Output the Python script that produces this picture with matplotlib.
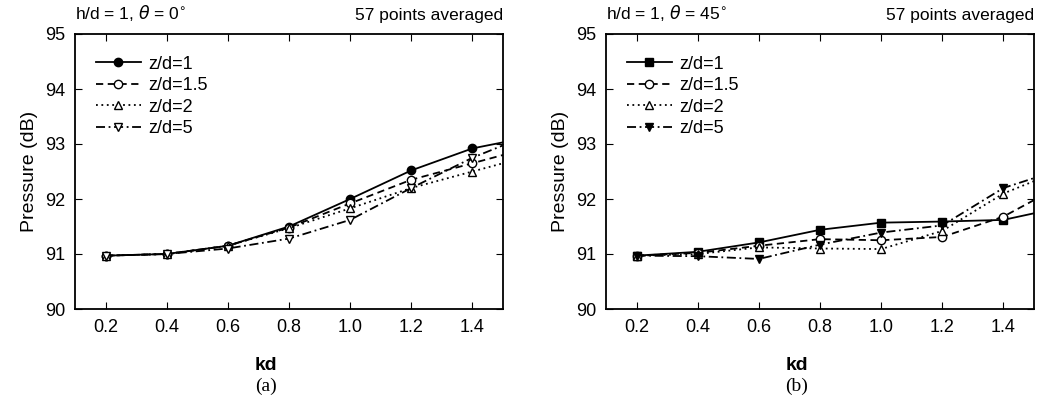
import numpy as np
import matplotlib.pyplot as plt

plt.rcParams['font.family'] = ['Liberation Sans', 'DejaVu Sans']

kd = [0.2, 0.4, 0.6, 0.8, 1.0, 1.2, 1.4, 1.6]
labels = ['z/d=1', 'z/d=1.5', 'z/d=2', 'z/d=5']

# panel (a): theta = 0
p_a = {
    'z/d=1':   [90.97, 91.00, 91.15, 91.50, 92.00, 92.52, 92.92, 93.14],
    'z/d=1.5': [90.97, 91.00, 91.15, 91.48, 91.92, 92.35, 92.65, 92.95],
    'z/d=2':   [90.97, 91.00, 91.15, 91.47, 91.83, 92.20, 92.50, 92.80],
    'z/d=5':   [90.97, 91.00, 91.10, 91.28, 91.62, 92.20, 92.75, 93.20],
}
# panel (b): theta = 45
p_b = {
    'z/d=1':   [90.97, 91.04, 91.21, 91.44, 91.57, 91.59, 91.62, 91.86],
    'z/d=1.5': [90.97, 91.02, 91.15, 91.27, 91.25, 91.31, 91.68, 92.28],
    'z/d=2':   [90.97, 91.00, 91.12, 91.10, 91.09, 91.42, 92.10, 92.55],
    'z/d=5':   [90.97, 90.96, 90.91, 91.17, 91.39, 91.52, 92.20, 92.56],
}

styles = {
    'z/d=1':   dict(ls='-', marker='o', mfc='black'),
    'z/d=1.5': dict(ls=(0, (4, 2.5)), marker='o', mfc='white'),
    'z/d=2':   dict(ls=(0, (1, 2)), marker='^', mfc='white'),
    'z/d=5':   dict(ls=(0, (5, 2, 1, 2)), marker='v', mfc='white'),
}

fig = plt.figure(figsize=(10.4, 4.01), dpi=100)
ax_a = fig.add_axes([75 / 1040, 1 - 309 / 401, 428 / 1040, 275 / 401])
ax_b = fig.add_axes([606 / 1040, 1 - 309 / 401, 428 / 1040, 275 / 401])

for ax, data, title, tag in [(ax_a, p_a, r'h/d = 1, $\theta$ = 0$^{\circ}$', '(a)'),
                             (ax_b, p_b, r'h/d = 1, $\theta$ = 45$^{\circ}$', '(b)')]:
    for lab in labels:
        st = dict(styles[lab])
        if ax is ax_b and lab == 'z/d=5':
            st['mfc'] = 'black'
        if ax is ax_b and lab == 'z/d=1':
            st['marker'] = 's'
        ax.plot(kd, data[lab], color='black', lw=1.3, ls=st['ls'], marker=st['marker'],
                mfc=st['mfc'], mec='black', ms=6, label=lab, clip_on=True)
    ax.set_xlim(0.1, 1.5)
    ax.set_ylim(90, 95)
    ax.set_xticks([0.2, 0.4, 0.6, 0.8, 1.0, 1.2, 1.4])
    ax.set_xticklabels(['0.2', '0.4', '0.6', '0.8', '1.0', '1.2', '1.4'])
    ax.set_yticks([90, 91, 92, 93, 94, 95])
    ax.tick_params(direction='in', top=True, right=True, labelsize=13, length=5, pad=7)
    for s in ax.spines.values():
        s.set_linewidth(1.3)
    ax.set_ylabel('Pressure (dB)', fontsize=14, labelpad=5)
    ax.text(0.0, 1.04, title, transform=ax.transAxes, ha='left', va='bottom', fontsize=12.5)
    ax.text(1.0, 1.04, '57 points averaged', transform=ax.transAxes, ha='right', va='bottom', fontsize=12.5)
    pos = ax.get_position()
    xc = (pos.x0 + pos.x1) / 2 - 23 / 1040
    fig.text(xc, 1 - 365 / 401, 'kd', ha='center', va='center', fontsize=14, fontweight='bold')
    fig.text(xc, 1 - 386 / 401, tag, ha='center', va='center', fontsize=14,
             family='Liberation Serif')
    ax.legend(loc='upper left', bbox_to_anchor=(0.01, 0.98), frameon=False, fontsize=13,
              handlelength=2.5, labelspacing=0.25, handletextpad=0.4)

fig.savefig('out.png', dpi=100)
